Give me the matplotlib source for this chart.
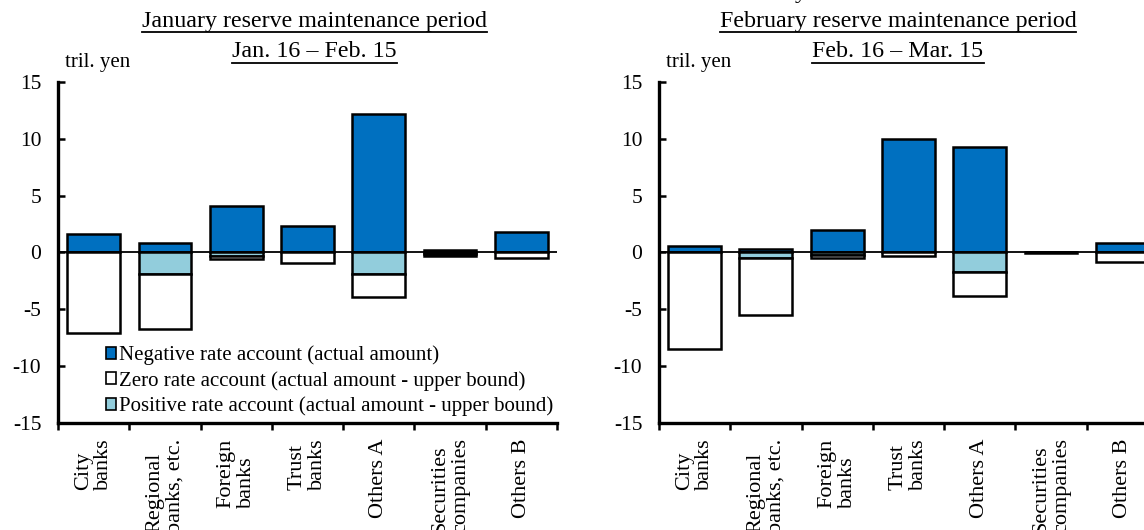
import numpy as np
import matplotlib
matplotlib.use("Agg")
import matplotlib.pyplot as plt
from matplotlib.lines import Line2D
from matplotlib.patches import Patch

plt.rcParams['font.family'] = ['Liberation Serif', 'DejaVu Serif']

categories = ["City\nbanks", "Regional\nbanks, etc.", "Foreign\nbanks", "Trust\nbanks",
              "Others A", "Securities\ncompanies", "Others B"]

# tril. yen
jan_negative = [1.65, 0.85, 4.1, 2.3, 12.2, 0.2, 1.8]
jan_positive = [0.0, -1.9, -0.35, 0.0, -1.85, -0.1, 0.0]
jan_zero = [-7.1, -4.8, -0.25, -0.9, -2.05, -0.2, -0.45]

feb_negative = [0.6, 0.3, 2.0, 9.95, 9.3, 0.05, 0.85]
feb_positive = [0.0, -0.5, -0.2, 0.0, -1.7, 0.0, 0.0]
feb_zero = [-8.5, -5.0, -0.3, -0.3, -2.1, -0.05, -0.8]

yticks = [-15, -10, -5, 0, 5, 10, 15]
legend_labels = ["Negative rate account (actual amount)",
                 "Zero rate account (actual amount - upper bound)",
                 "Positive rate account (actual amount - upper bound)"]

BLUE = "#0070C0"
LIGHT = "#92CDDC"

fig = plt.figure(figsize=(11.44, 5.30), dpi=100)


def draw(ax, neg, pos, zero):
    x = np.arange(len(categories))
    kw = dict(width=0.74, edgecolor="black", linewidth=1.8, zorder=2)
    ax.bar(x, neg, color=BLUE, **kw)
    ax.bar(x, pos, color=LIGHT, **kw)
    ax.bar(x, zero, bottom=pos, color="white", **kw)
    ax.axhline(0, color="black", lw=1.3, zorder=3)
    ax.set_xlim(-0.5, len(categories) - 0.5)
    ax.set_ylim(-15, 15)
    ax.set_yticks(yticks)
    ax.set_yticklabels([str(v) for v in yticks], fontsize=15.5)
    ax.tick_params(axis="y", direction="in", length=5, width=1.8, pad=12)
    ax.set_xticks(x)
    ax.set_xticklabels(categories, rotation=90, va="top", ha="center",
                       multialignment="left", fontsize=16, linespacing=1.1)
    ax.tick_params(axis="x", which="major", length=0, pad=11)
    ax.set_xticks(np.arange(len(categories) + 1) - 0.5, minor=True)
    ax.tick_params(axis="x", which="minor", direction="out", length=5, width=1.8)
    for s in ("top", "right"):
        ax.spines[s].set_visible(False)
    for s in ("left", "bottom"):
        ax.spines[s].set_linewidth(2.4)
    ax.text(0.014, 1.03, "tril. yen", transform=ax.transAxes, fontsize=15,
            ha="left", va="bottom")


ax1 = fig.add_axes([0.0507, 0.2019, 0.4362, 0.6434])
draw(ax1, jan_negative, jan_positive, jan_zero)
ax2 = fig.add_axes([0.5760, 0.2019, 0.4362, 0.6434])
draw(ax2, feb_negative, feb_positive, feb_zero)

handles = [Patch(facecolor=c, edgecolor="black", lw=1.2) for c in (BLUE, "white", LIGHT)]
ax1.legend(handles, legend_labels, loc="upper left", bbox_to_anchor=(0.096, 0.228),
           frameon=False, fontsize=15, handlelength=0.5, handleheight=0.5,
           handletextpad=0.15, labelspacing=0.28, borderpad=0, borderaxespad=0)

titles = [
    (0.275, 0.960, "January reserve maintenance period"),
    (0.275, 0.902, "Jan. 16 \u2013 Feb. 15"),
    (0.785, 0.960, "February reserve maintenance period"),
    (0.785, 0.902, "Feb. 16 \u2013 Mar. 15"),
]
texts = [fig.text(x, y, s, ha="center", va="center", fontsize=17.3) for x, y, s in titles]
# cropped heading from above
fig.text(0.70, 1.004, "y", ha="center", va="baseline", fontsize=17.3)

fig.canvas.draw()
r = fig.canvas.get_renderer()
W, H = fig.bbox.width, fig.bbox.height
for t in texts:
    bb = t.get_window_extent(r)
    yy = (bb.y0 - 0.5) / H
    fig.add_artist(Line2D([bb.x0 / W, bb.x1 / W], [yy, yy], transform=fig.transFigure,
                          color="black", lw=1.3))

fig.savefig("out.png", dpi=100)
